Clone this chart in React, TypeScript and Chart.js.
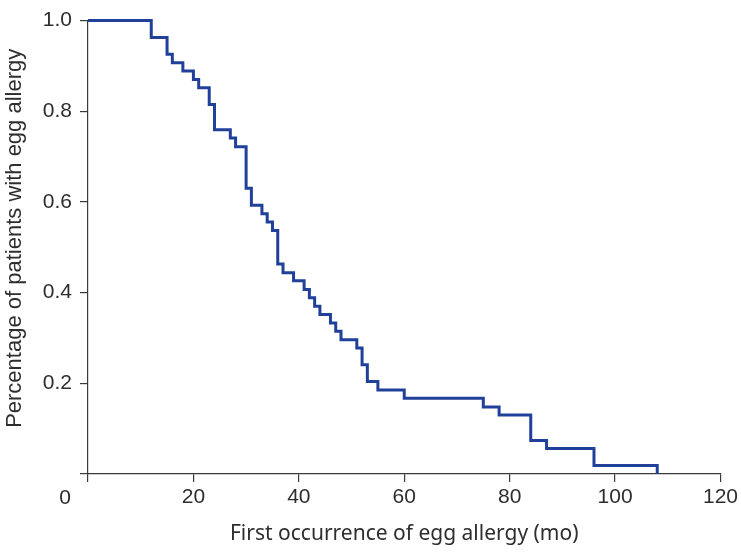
import React, { useEffect, useRef } from 'react';
import { Chart, registerables } from 'chart.js';

Chart.register(...registerables);

// Kaplan–Meier style step data: month of event and remaining proportion
const months = [0, 12, 15, 16, 18, 20, 21, 23, 24, 27, 28, 30, 31, 33, 34, 35, 36, 37, 39, 41, 42, 43, 44, 46, 47, 48, 51, 52, 53, 55, 60, 75, 78, 84, 87, 96, 108];
const proportion = [1.0, 0.963, 0.926, 0.907, 0.889, 0.870, 0.852, 0.815, 0.759, 0.741, 0.722, 0.630, 0.593, 0.574, 0.556, 0.537, 0.463, 0.444, 0.426, 0.407, 0.389, 0.370, 0.352, 0.333, 0.315, 0.296, 0.278, 0.241, 0.204, 0.185, 0.167, 0.148, 0.130, 0.074, 0.056, 0.019, 0];

const xTickValues = [0, 20, 40, 60, 80, 100, 120];
const yTickValues = [0, 0.2, 0.4, 0.6, 0.8, 1.0];

const xTitle = 'First occurrence of egg allergy (mo)';
const yTitle = 'Percentage of patients with egg allergy';

const LINE_COLOR = '#21409a';
const AXIS_COLOR = '#3a3a3a';
const TEXT_COLOR = '#2e2e2e';
const TICK_FONT = { family: '"Liberation Sans", Arial, sans-serif', size: 21 };

const extraText = {
  id: 'extraText',
  afterDraw(chart: any) {
    const xs = chart.scales.x;
    const ys = chart.scales.y;
    const ctx = chart.ctx;
    ctx.save();
    ctx.fillStyle = TEXT_COLOR;
    ctx.textAlign = 'center';
    ctx.textBaseline = 'middle';
    // shared origin label
    ctx.font = '21px "Liberation Sans", Arial, sans-serif';
    ctx.fillText('0', xs.getPixelForValue(0) - 23, xs.top + 24);
    // y-axis title
    ctx.font = '22px "Liberation Sans", Arial, sans-serif';
    ctx.translate(15, (ys.top + ys.bottom) / 2 - 9);
    ctx.rotate(-Math.PI / 2);
    ctx.fillText(yTitle, 0, 0);
    ctx.restore();
  },
};

export default function App() {
  const ref = useRef<HTMLCanvasElement | null>(null);

  useEffect(() => {
    document.body.style.margin = '0';
    if (!ref.current) return;
    const points = months.map((m, i) => ({ x: m, y: proportion[i] }));
    const chart = new Chart(ref.current, {
      type: 'line',
      data: {
        datasets: [
          {
            data: points,
            borderColor: LINE_COLOR,
            borderWidth: 3,
            stepped: 'before',
            pointRadius: 0,
            fill: false,
            clip: false,
          },
        ],
      },
      options: {
        animation: false,
        responsive: true,
        maintainAspectRatio: false,
        layout: { padding: { left: 0, right: 19, top: 12, bottom: 0 } },
        plugins: { legend: { display: false }, tooltip: { enabled: false } },
        scales: {
          x: {
            type: 'linear',
            min: 0,
            max: 120,
            afterBuildTicks: (s: any) => {
              s.ticks = xTickValues.map((v) => ({ value: v }));
            },
            afterFit: (s: any) => {
              s.height = 78;
            },
            ticks: {
              font: TICK_FONT,
              color: TEXT_COLOR,
              padding: 3,
              maxRotation: 0,
              autoSkip: false,
              callback: (v: any) => (v === 0 ? '' : String(v)),
            },
            grid: {
              display: true,
              drawOnChartArea: false,
              drawTicks: true,
              tickLength: 8,
              color: AXIS_COLOR,
              lineWidth: 1.2,
            },
            border: { display: true, color: AXIS_COLOR, width: 1.2 },
            title: {
              display: true,
              text: xTitle,
              color: TEXT_COLOR,
              font: { family: '"Noto Sans", "Open Sans", sans-serif', size: 21 },
              padding: { top: 0, bottom: 5 },
            },
          },
          y: {
            type: 'linear',
            min: 0,
            max: 1,
            afterBuildTicks: (s: any) => {
              s.ticks = yTickValues.map((v) => ({ value: v }));
            },
            afterFit: (s: any) => {
              s.width = 88;
            },
            ticks: {
              font: TICK_FONT,
              color: TEXT_COLOR,
              padding: 8,
              autoSkip: false,
              callback: (v: any) => (v === 0 ? '' : Number(v).toFixed(1)),
            },
            grid: {
              display: true,
              drawOnChartArea: false,
              drawTicks: true,
              tickLength: 8,
              color: AXIS_COLOR,
              lineWidth: 1.2,
            },
            border: { display: true, color: AXIS_COLOR, width: 1.2 },
            title: { display: false },
          },
        },
      },
      plugins: [extraText],
    } as any);
    return () => chart.destroy();
  }, []);

  return (
    <div style={{ width: 741, height: 552, position: 'relative' }}>
      <canvas ref={ref} />
    </div>
  );
}
